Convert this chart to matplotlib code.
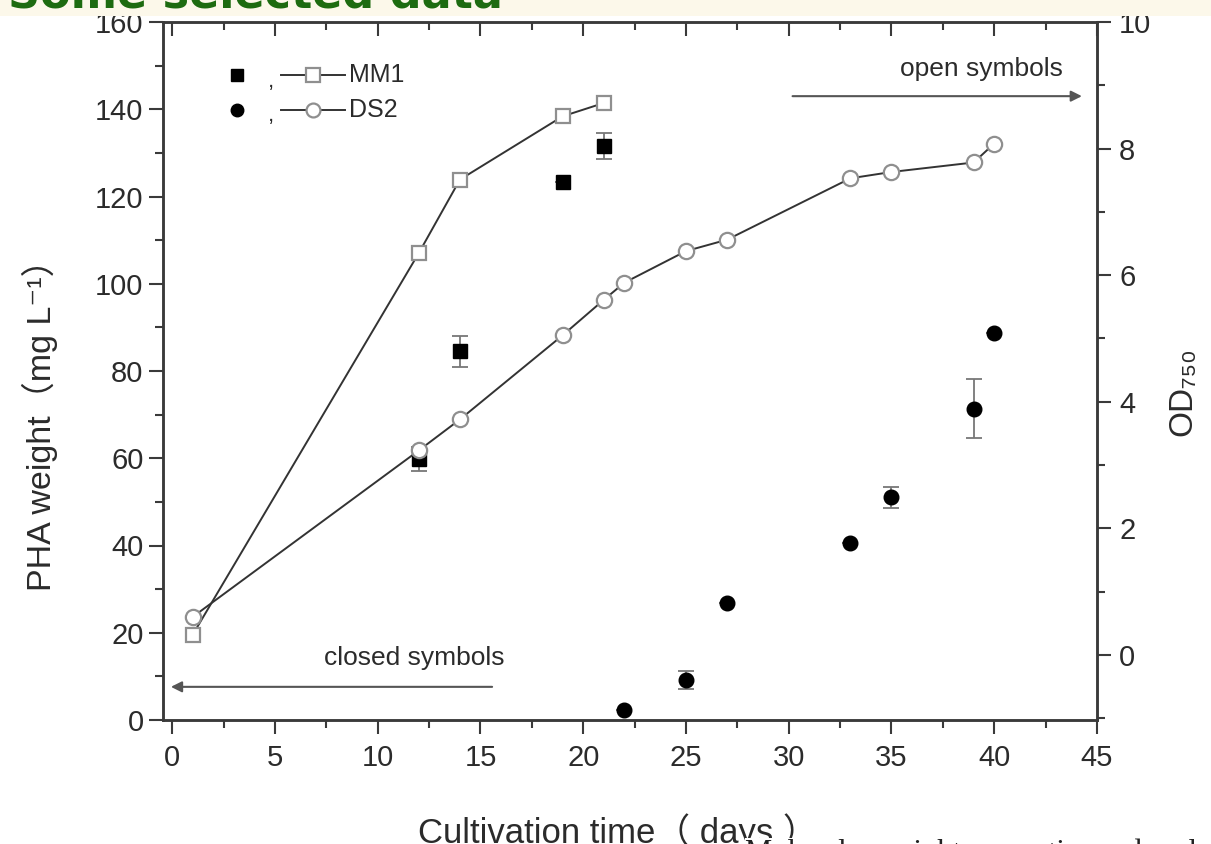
import matplotlib
matplotlib.use('Agg')
import matplotlib.pyplot as plt
from matplotlib.ticker import MultipleLocator
from matplotlib.patches import Rectangle

# closed symbols -> PHA weight (left axis)
mm1_days = [12, 14, 19, 21]
mm1_pha = [59.8, 84.5, 123.4, 131.5]
mm1_pha_err = [2.8, 3.5, 0.0, 3.0]

ds2_days = [22, 25, 27, 33, 35, 39, 40]
ds2_pha = [2.3, 9.2, 26.9, 40.6, 51.1, 71.4, 88.6]
ds2_pha_err = [0.0, 2.0, 0.0, 0.0, 2.4, 6.8, 0.0]

# open symbols -> OD750 (right axis)
mm1_od_days = [1, 12, 14, 19, 21]
mm1_od = [0.32, 6.35, 7.51, 8.51, 8.72]

ds2_od_days = [1, 12, 14, 19, 21, 22, 25, 27, 33, 35, 39, 40]
ds2_od = [0.60, 3.23, 3.72, 5.05, 5.61, 5.88, 6.38, 6.56, 7.53, 7.63, 7.78, 8.08]

FONT = ['Liberation Sans', 'DejaVu Sans', 'Noto Sans CJK SC']
plt.rcParams['font.family'] = FONT
txt = '#2b2b2b'
axc = '#3a3a3a'

fig = plt.figure(figsize=(12.11, 8.44), dpi=100)
fig.patch.set_facecolor('white')

# cream strip with cut-off title at the very top
fig.patches.append(Rectangle((0, 1 - 16 / 844), 1, 16 / 844, transform=fig.transFigure,
                             facecolor='#fcf8ea', edgecolor='none', zorder=0))
fig.text(8 / 1211, 1 - 8 / 844, 'Some selected data', color='#1d6b10', fontsize=32,
         fontweight='bold', va='baseline', ha='left', family=['DejaVu Sans'])

ax = fig.add_axes([163 / 1211, 1 - 720 / 844, 934 / 1211, 698 / 844])
ax2 = ax.twinx()

ax.set_xlim(-0.45, 45)
ax.set_ylim(0, 160)
ax2.set_ylim(-1.03, 10)

# closed symbols with error bars
ax.errorbar(mm1_days, mm1_pha, yerr=mm1_pha_err, fmt='s', color='black', ms=9.5,
            ecolor='#777777', elinewidth=1.3, capsize=5.5, capthick=1.3, zorder=3)
ax.errorbar(ds2_days, ds2_pha, yerr=ds2_pha_err, fmt='o', color='black', ms=10.5,
            ecolor='#777777', elinewidth=1.3, capsize=5.5, capthick=1.3, zorder=3)

# open symbols on the OD axis
ax2.plot(mm1_od_days, mm1_od, '-s', color='#333333', lw=1.4, ms=10, mfc='white',
         mec='#8f8f8f', mew=1.6, zorder=4)
ax2.plot(ds2_od_days, ds2_od, '-o', color='#333333', lw=1.4, ms=11, mfc='white',
         mec='#8f8f8f', mew=1.6, zorder=4)

# ticks
ax.xaxis.set_major_locator(MultipleLocator(5))
ax.xaxis.set_minor_locator(MultipleLocator(2.5))
ax.yaxis.set_major_locator(MultipleLocator(20))
ax.yaxis.set_minor_locator(MultipleLocator(10))
ax2.yaxis.set_major_locator(MultipleLocator(2))
ax2.yaxis.set_minor_locator(MultipleLocator(1))

ax.tick_params(axis='x', which='both', direction='out', bottom=True, top=False,
               colors=axc, labelcolor=txt, labelsize=21, pad=7, width=1.5)
ax.tick_params(axis='x', which='major', length=10)
ax.tick_params(axis='x', which='minor', length=6)
ax.tick_params(axis='y', which='both', direction='out', colors=axc, labelcolor=txt,
               labelsize=21, pad=4, width=1.5)
ax.tick_params(axis='y', which='major', length=10)
ax.tick_params(axis='y', which='minor', length=6)
ax2.tick_params(axis='y', which='both', direction='out', colors=axc, labelcolor=txt,
                labelsize=21, pad=6, width=1.5)
ax2.tick_params(axis='y', which='major', length=10)
ax2.tick_params(axis='y', which='minor', length=6)

# inward ticks on top edge
top = ax.secondary_xaxis('top')
top.xaxis.set_major_locator(MultipleLocator(5))
top.xaxis.set_minor_locator(MultipleLocator(2.5))
top.tick_params(axis='x', which='both', direction='in', labeltop=False, colors=axc, width=1.5)
top.tick_params(axis='x', which='major', length=10)
top.tick_params(axis='x', which='minor', length=6)
top.spines['top'].set_visible(False)

for a in (ax, ax2):
    for s in a.spines.values():
        s.set_linewidth(1.8)
        s.set_color(axc)

# axis labels
fig.text(40 / 1211, 1 - 417 / 844, 'PHA weight（mg L⁻¹）', rotation=90, fontsize=24.5,
         color=txt, ha='center', va='center')
fig.text(1183 / 1211, 1 - 392 / 844, 'OD₇₅₀', rotation=90, fontsize=24,
         color=txt, ha='center', va='center')
fig.text(618 / 1211, 1 - 813 / 844, 'Cultivation time（ days ）', fontsize=25,
         color=txt, ha='center', va='top')

# annotations
ax.annotate('', xy=(-0.2, 7.6), xytext=(15.7, 7.6),
            arrowprops=dict(arrowstyle='-|>', color='#555555', lw=1.5, mutation_scale=16))
ax.text(11.8, 14.2, 'closed symbols', fontsize=19, color=txt, ha='center', va='center')
ax.annotate('', xy=(44.4, 143), xytext=(30.05, 143),
            arrowprops=dict(arrowstyle='-|>', color='#555555', lw=1.5, mutation_scale=16))
ax.text(39.4, 149.3, 'open symbols', fontsize=19, color=txt, ha='center', va='center')

# hand-made legend
def ax_xy(px, py):
    return (px - 163) / 934, (720 - py) / 698

for py, closed, openm, name in [(75, 's', 's', 'MM1'), (110, 'o', 'o', 'DS2')]:
    x0, y0 = ax_xy(237, py)
    ax.plot([x0], [y0], closed, color='black', ms=9, transform=ax.transAxes, clip_on=False)
    xc, yc = ax_xy(271, py + 6)
    ax.text(xc, yc, ',', fontsize=16, color=txt, ha='center', va='center', transform=ax.transAxes)
    xa, ya = ax_xy(281, py)
    xb, _ = ax_xy(345, py)
    xm, _ = ax_xy(313, py)
    ax.plot([xa, xb], [ya, ya], '-', color='#333333', lw=1.4, transform=ax.transAxes)
    ax.plot([xm], [ya], openm, ms=10, mfc='white', mec='#8f8f8f', mew=1.6,
            transform=ax.transAxes)
    xt, _ = ax_xy(349, py)
    ax.text(xt, ya, name, fontsize=18, color=txt, ha='left', va='center', transform=ax.transAxes)

# cut-off caption line at the bottom
fig.text(745 / 1211, 1 - 838 / 844, 'Molecular weight properties and molecular',
         fontsize=22, color='#222222', ha='left', va='top', family=['Liberation Serif'],
         bbox=dict(facecolor='white', edgecolor='none', pad=0))

fig.savefig('out.png', dpi=100)
